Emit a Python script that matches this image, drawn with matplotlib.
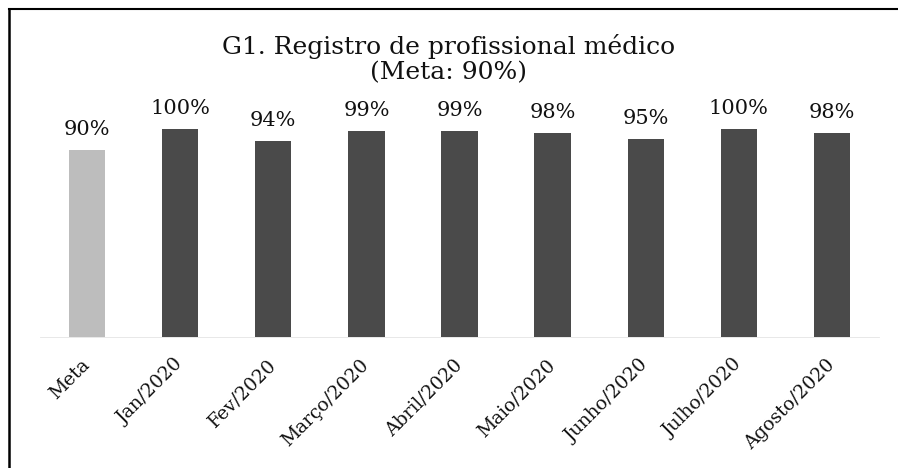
import matplotlib.pyplot as plt
from matplotlib.lines import Line2D

# data
categories = ['Meta', 'Jan/2020', 'Fev/2020', 'Março/2020', 'Abril/2020',
              'Maio/2020', 'Junho/2020', 'Julho/2020', 'Agosto/2020']
values = [90, 100, 94, 99, 99, 98, 95, 100, 98]
labels = ['90%', '100%', '94%', '99%', '99%', '98%', '95%', '100%', '98%']
title = 'G1. Registro de profissional médico\n(Meta: 90%)'

plt.rcParams['font.family'] = ['DejaVu Serif']

fig = plt.figure(figsize=(8.98, 4.68), dpi=100)
ax = fig.add_axes([0.0451, 0.2799, 0.9332, 0.5778])

colors = ['#bdbdbd'] + ['#4a4a4a'] * (len(values) - 1)
x = range(len(categories))
bars = ax.bar(x, values, width=0.39, color=colors, edgecolor='none')

for rect, lab in zip(bars, labels):
    ax.annotate(lab, (rect.get_x() + rect.get_width() / 2, rect.get_height()),
                xytext=(0, 8), textcoords='offset points',
                ha='center', va='bottom', fontsize=15, color='#111111')

ax.set_xlim(-0.5, len(categories) - 0.5)
ax.set_ylim(0, 130)
ax.set_xticks(list(x))
ax.set_xticklabels(categories, rotation=45, ha='right', va='center',
                   rotation_mode='anchor', fontsize=13.5, color='#111111')
ax.tick_params(axis='x', length=0, pad=18)
ax.set_yticks([])
for side in ['top', 'right', 'left']:
    ax.spines[side].set_visible(False)
ax.spines['bottom'].set_color('#e4e4e4')
ax.spines['bottom'].set_linewidth(0.6)

fig.text(0.5, 0.874, title, ha='center', va='center', fontsize=18,
         linespacing=1.1, color='#111111')

# frame of the scanned box (top and left edges only are visible)
fig.add_artist(Line2D([9 / 898, 1.0], [1 - 9 / 468, 1 - 9 / 468],
                      transform=fig.transFigure, color='black', lw=1.5))
fig.add_artist(Line2D([9 / 898, 9 / 898], [0.0, 1 - 9 / 468],
                      transform=fig.transFigure, color='black', lw=1.8))

fig.savefig('out.png', dpi=100)
